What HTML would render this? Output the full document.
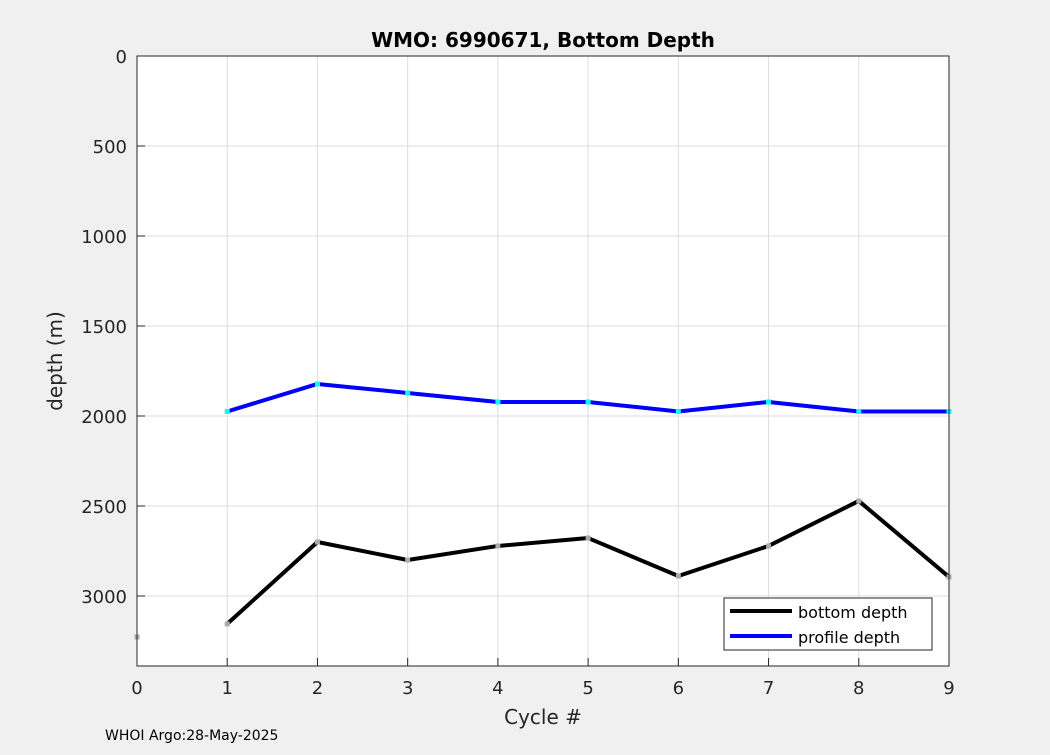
<!DOCTYPE html>
<html><head><meta charset="utf-8"><style>
body{margin:0;background:#f0f0f0;font-family:"Liberation Sans","DejaVu Sans",sans-serif}
</style></head><body>
<svg width="1050" height="750" xmlns="http://www.w3.org/2000/svg" font-family="DejaVu Sans, Liberation Sans, sans-serif">
<rect width="1050" height="750" fill="#f0f0f0"/>
<rect x="137" y="56" width="812" height="610" fill="#fff"/>
<g id="grid"></g>
<g id="marks"></g>
<rect x="137" y="56" width="812" height="610" fill="none" stroke="#262626" stroke-width="1"/>
<g id="ticks"></g>
<text x="543" y="47" text-anchor="middle" font-size="20" font-weight="bold" fill="#000">WMO: 6990671, Bottom Depth</text>
<text x="543" y="724" text-anchor="middle" font-size="20" fill="#262626">Cycle #</text>
<text transform="translate(62,361) rotate(-90)" text-anchor="middle" font-size="20" fill="#262626">depth (m)</text>
<text x="105" y="740" font-size="14" fill="#000">WHOI Argo:28-May-2025</text>
<g>
<rect x="724" y="598" width="208" height="52" fill="#fff" stroke="#262626"/>
<line x1="730" y1="611" x2="792" y2="611" stroke="#000" stroke-width="4"/>
<text x="798" y="618" font-size="16" fill="#000">bottom depth</text>
<line x1="730" y1="636" x2="792" y2="636" stroke="#0000ff" stroke-width="4"/>
<text x="798" y="643" font-size="16" fill="#000">profile depth</text>
</g>
</svg>
<script>
const xTicks=[0,1,2,3,4,5,6,7,8,9];
const yTicks=[0,500,1000,1500,2000,2500,3000];
const bottomCycles=[1,2,3,4,5,6,7,8,9];
const bottomDepth=[3155,2700,2800,2722,2678,2889,2722,2472,2894];
const extraCycle=[0];
const extraDepth=[3228];
const profileCycles=[1,2,3,4,5,6,7,8,9];
const profileDepth=[1975,1822,1872,1922,1922,1975,1922,1975,1975];
const NS="http://www.w3.org/2000/svg";
const X=v=>137+v*(812/9), Y=v=>56+v*0.18;
function mk(t,a,p){const e=document.createElementNS(NS,t);for(const k in a)e.setAttribute(k,a[k]);p.appendChild(e);return e;}
const grid=document.getElementById('grid'),ticks=document.getElementById('ticks'),marks=document.getElementById('marks');
xTicks.forEach(v=>{const g=mk('line',{x1:X(v),x2:X(v),y1:56,y2:666,stroke:'#dcdcdc'},grid);

const t=mk('line',{x1:X(v),x2:X(v),y1:666,y2:658,stroke:'#262626'},ticks);

const l=mk('text',{x:X(v),y:694,'text-anchor':'middle','font-size':18,fill:'#262626'},ticks);l.textContent=v;
});
yTicks.forEach(v=>{const g=mk('line',{x1:137,x2:949,y1:Y(v),y2:Y(v),stroke:'#dcdcdc'},grid);

const t=mk('line',{x1:137,x2:145,y1:Y(v),y2:Y(v),stroke:'#262626'},ticks);

const l=mk('text',{x:127,y:Y(v)+7,'text-anchor':'end','font-size':18,fill:'#262626'},ticks);l.textContent=v;
});
function series(cs,ds,color,mcol,name){
const p=mk('polyline',{points:cs.map((c,i)=>X(c)+','+Y(ds[i])).join(' '),fill:'none',stroke:color,'stroke-width':4,'stroke-linejoin':'round'},marks);

cs.forEach((c,i)=>{const m=mk('rect',{x:X(c)-2.5,y:Y(ds[i])-2.5,width:5,height:5,fill:mcol},marks);
});}
series(bottomCycles,bottomDepth,'#000','#aaa','bottom-depth');
series(profileCycles,profileDepth,'#0000ff','#00ffff','profile-depth');
extraCycle.forEach((c,i)=>{const m=mk('rect',{x:X(c)-2.5,y:Y(extraDepth[i])-2.5,width:5,height:5,fill:'#aaa'},marks);
});
</script>
</body></html>
